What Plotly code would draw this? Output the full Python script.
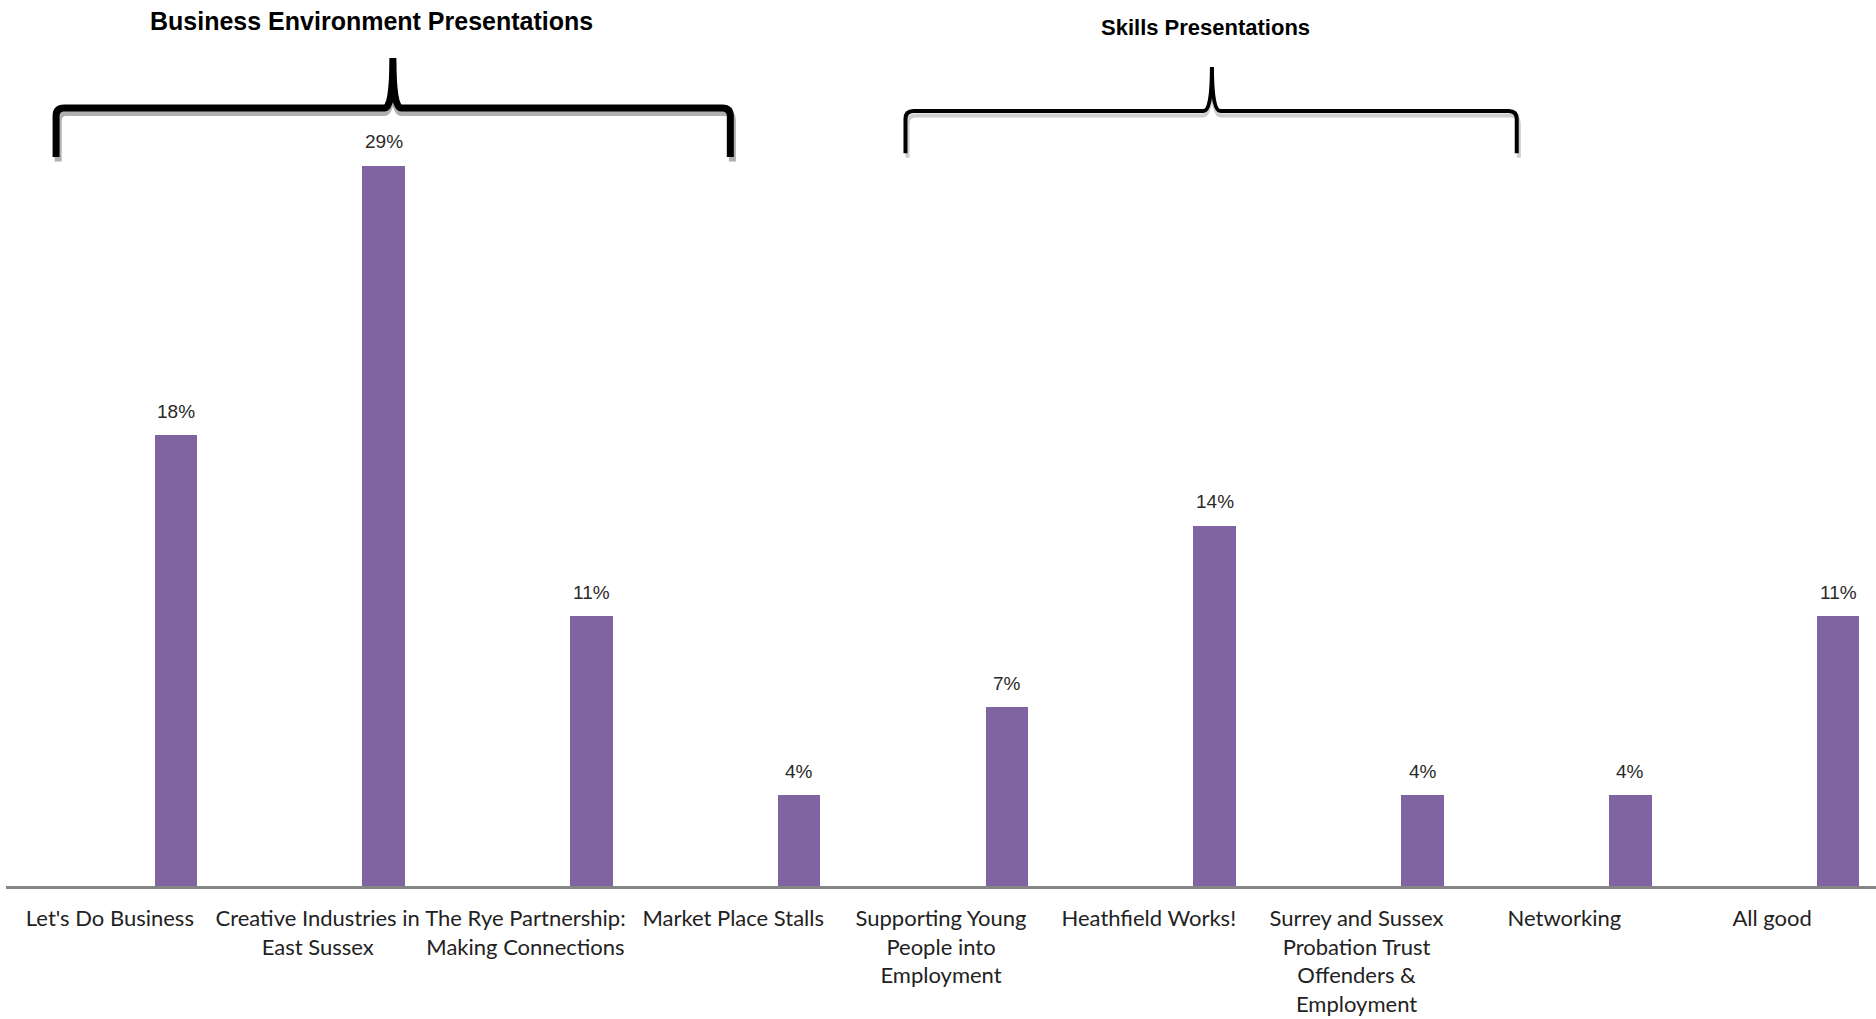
import plotly.graph_objects as go

categories = ["Let's Do Business", "Creative Industries in<br>East Sussex",
              "The Rye Partnership:<br>Making Connections", "Market Place Stalls",
              "Supporting Young<br>People into<br>Employment", "Heathfield Works!",
              "Surrey and Sussex<br>Probation Trust<br>Offenders &<br>Employment",
              "Networking", "All good"]
values = [17.9, 28.6, 10.7, 3.6, 7.1, 14.3, 3.6, 3.6, 10.7]
group_titles = ["Business Environment Presentations", "Skills Presentations"]

TICKFONT = "Lato, Liberation Sans Narrow, sans-serif"
LABELFONT = "Liberation Sans, Arial, sans-serif"
TITLEFONT = "Liberation Sans Narrow, Liberation Sans, sans-serif"
PURPLE = "#8064A2"
BAR_OFFSET, BAR_WIDTH = 0.215, 0.205

xs = list(range(len(categories)))
fig = go.Figure(go.Bar(
    x=xs, y=values, width=BAR_WIDTH, offset=BAR_OFFSET,
    marker=dict(color=PURPLE, line=dict(width=0)),
    hoverinfo="skip",
))

# value labels above bars
annotations = [
    dict(x=x + BAR_OFFSET + BAR_WIDTH / 2, y=v, xref="x", yref="y",
         text=f"{v:.0f}%", showarrow=False, yanchor="middle", yshift=24,
         font=dict(family=LABELFONT, size=19, color="#2a2a2a"))
    for x, v in zip(xs, values)
]


def brace(xl, xr, xc, yb, yh, yt, rx=0.0385, ry=0.010, sx=0.04):
    return (f"M {xl},{yb} L {xl},{yh-ry} Q {xl},{yh} {xl+rx},{yh} "
            f"L {xc-sx},{yh} Q {xc},{yh} {xc},{yt} "
            f"Q {xc},{yh} {xc+sx},{yh} "
            f"L {xr-rx},{yh} Q {xr},{yh} {xr},{yh-ry} L {xr},{yb}")


braces = [
    # (left, right, tip x, bottom, horizontal, tip y, width, shadow colour)
    (-0.259, 2.986, 1.362, 0.9045, 0.9653, 1.0273, 7.0, "#b0b0b0"),
    (3.829, 6.771, 5.304, 0.909, 0.9615, 1.0161, 4.0, "#cfcfcf"),
]
shapes = []
for xl, xr, xc, yb, yh, yt, w, sc in braces:
    d = 0.0055
    shapes.append(dict(type="path", xref="x", yref="paper", layer="above",
                       path=brace(xl + 0.01, xr + 0.01, xc, yb - d, yh - d, yt - d),
                       line=dict(color=sc, width=w)))
    shapes.append(dict(type="path", xref="x", yref="paper", layer="above",
                       path=brace(xl, xr, xc, yb, yh, yt),
                       line=dict(color="black", width=w)))

annotations += [
    dict(text=f"<b>{group_titles[0]}</b>", xref="x", yref="paper", x=1.261, y=1.0726,
         showarrow=False, yanchor="middle",
         font=dict(family=TITLEFONT, size=25, color="black")),
    dict(text=f"<b>{group_titles[1]}</b>", xref="x", yref="paper", x=5.275, y=1.0651,
         showarrow=False, yanchor="middle",
         font=dict(family=TITLEFONT, size=22, color="black")),
]

fig.update_layout(
    width=1876, height=1019,
    margin=dict(l=6, r=0, t=80, b=133, autoexpand=False),
    plot_bgcolor="white", paper_bgcolor="white",
    showlegend=False, bargap=0,
    shapes=shapes, annotations=annotations,
    xaxis=dict(range=[-0.5, 8.5], tickvals=xs, ticktext=categories, ticks="",
               showline=True, linecolor="#868686", linewidth=2.5, showgrid=False,
               zeroline=False, automargin=False, ticklabelstandoff=11,
               tickfont=dict(family=TICKFONT, size=22, color="#222222"), tickangle=0),
    yaxis=dict(range=[0, 32], visible=False, showgrid=False, zeroline=False),
)

fig.write_html("out.html", config={"displayModeBar": False},
               post_script="document.body.style.margin='0px';")
